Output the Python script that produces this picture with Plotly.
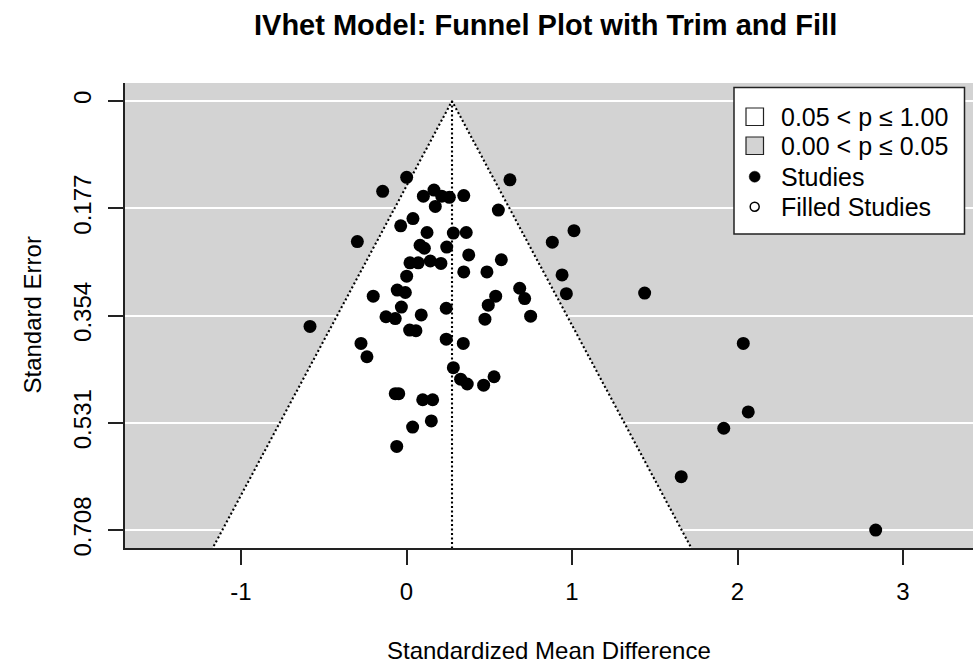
import plotly.graph_objects as go

# ---------------- data ----------------
estimate = 0.275  # trim-and-fill pooled estimate (apex of funnel)

smd = [0.001, -0.144, 0.166, 0.102, 0.213, 0.259, 0.346, 0.625, 0.174, 0.555,
       0.039, -0.035, 0.124, 0.283, 0.361, 1.012, -0.297, 0.881, 0.082, 0.108,
       0.243, 0.376, 0.021, 0.071, 0.144, 0.208, 0.573, 0.346, 0.486, 0.940,
       0.001, 0.684, -0.056, -0.007, -0.201, 0.966, 0.539, 0.714, 0.494, -0.031,
       0.240, 1.439, -0.583, -0.124, -0.068, 0.089, 0.474, 0.750, 0.019, 0.057,
       0.240, 0.343, -0.275, -0.239, 0.283, 0.327, 0.367, 0.466, 0.529, -0.068,
       -0.047, 0.098, 0.158, 0.150, 0.037, -0.059, 2.035, 2.065, 1.917, 1.660,
       2.835]
se = [0.126, 0.149, 0.147, 0.157, 0.157, 0.159, 0.156, 0.130, 0.174, 0.180,
      0.194, 0.206, 0.217, 0.218, 0.217, 0.214, 0.232, 0.233, 0.238, 0.243,
      0.241, 0.254, 0.267, 0.267, 0.264, 0.268, 0.262, 0.282, 0.282, 0.287,
      0.289, 0.309, 0.312, 0.316, 0.322, 0.318, 0.322, 0.326, 0.337, 0.340,
      0.342, 0.317, 0.372, 0.356, 0.359, 0.353, 0.360, 0.355, 0.378, 0.379,
      0.393, 0.400, 0.400, 0.422, 0.440, 0.459, 0.467, 0.469, 0.455, 0.483,
      0.483, 0.493, 0.493, 0.528, 0.538, 0.570, 0.400, 0.513, 0.540, 0.620,
      0.708]

filled_smd = []   # no imputed studies
filled_se = []

y_tickvals = [0, 0.177, 0.354, 0.531, 0.708]
y_ticktext = ["0", "0.177", "0.354", "0.531", "0.708"]
x_tickvals = [-1, 0, 1, 2, 3]
x_ticktext = ["-1", "0", "1", "2", "3"]

legend_labels = ["0.05 < p \u2264 1.00", "0.00 < p \u2264 0.05", "Studies", "Filled Studies"]

title_text = "IVhet Model: Funnel Plot with Trim and Fill"
x_title = "Standardized Mean Difference"
y_title = "Standard Error"

# ---------------- layout geometry ----------------
W, H = 973, 666
L, R, T, B = 125, 0, 83, 118
pw, ph = W - L - R, H - T - B

def px(x):
    return (x - L) / pw

def py(y):
    return (H - B - y) / ph

FONT = "Liberation Sans, Arial, Helvetica, sans-serif"
GREY = "#d3d3d3"
INK = "#222222"

se_bottom = 0.80
z = 1.96
fx = [estimate - z * se_bottom, estimate, estimate + z * se_bottom]
fy = [se_bottom, 0, se_bottom]

fig = go.Figure()

# white (non-significant) funnel region
fig.add_trace(go.Scatter(x=fx, y=fy, mode="lines", fill="toself",
                         fillcolor="white", line=dict(width=0),
                         hoverinfo="skip", showlegend=False))
# funnel edges (dotted)
fig.add_trace(go.Scatter(x=fx, y=fy, mode="lines",
                         line=dict(color="black", width=2.1, dash="2px,2.5px"),
                         hoverinfo="skip", showlegend=False))
# vertical line at estimate
fig.add_trace(go.Scatter(x=[estimate, estimate], y=[0, se_bottom], mode="lines",
                         line=dict(color="black", width=2.1, dash="2px,2.5px"),
                         hoverinfo="skip", showlegend=False))
# studies
fig.add_trace(go.Scatter(x=smd, y=se, mode="markers",
                         marker=dict(color="black", size=13, line=dict(width=0)),
                         name=legend_labels[2], showlegend=False))
# filled studies (none)
fig.add_trace(go.Scatter(x=filled_smd, y=filled_se, mode="markers",
                         marker=dict(color="white", size=11,
                                     line=dict(color="black", width=1.5)),
                         name=legend_labels[3], showlegend=False))

x_range = [(L - 406.5) / 165.5, (W - R - 406.5) / 165.5]
y_range = [(H - B - 101) / 606.0, (T - 101) / 606.0]

fig.update_layout(
    width=W, height=H,
    margin=dict(l=L, r=R, t=T, b=B, pad=0),
    paper_bgcolor="white",
    plot_bgcolor=GREY,
    font=dict(family=FONT, size=24, color="black"),
    showlegend=False,
    xaxis=dict(range=x_range, tickvals=x_tickvals, ticktext=x_ticktext,
               showgrid=False, zeroline=False, showline=True,
               linecolor=INK, linewidth=1.5, ticks="outside", ticklen=15,
               tickwidth=1.5, tickcolor=INK, ticklabelstandoff=6,
               tickfont=dict(size=24, family=FONT, color="black")),
    yaxis=dict(range=y_range, tickvals=y_tickvals, ticktext=y_ticktext,
               showgrid=True, gridcolor="white", gridwidth=1.5,
               zeroline=False, showline=True, linecolor=INK, linewidth=1.5,
               ticks="outside", ticklen=15, tickwidth=1.5, tickcolor=INK,
               tickangle=-90, ticklabelstandoff=8,
               tickfont=dict(size=24, family=FONT, color="black")),
)

annotations = [
    dict(text="<b>" + title_text + "</b>", x=px(545), y=py(25), xref="paper", yref="paper",
         xanchor="center", yanchor="middle", showarrow=False,
         font=dict(size=29, family=FONT, color="black")),
    dict(text=x_title, x=px(549), y=py(650), xref="paper", yref="paper",
         xanchor="center", yanchor="middle", showarrow=False,
         font=dict(size=24, family=FONT, color="black")),
    dict(text=y_title, x=px(32), y=py(315.5), xref="paper", yref="paper",
         xanchor="center", yanchor="middle", showarrow=False, textangle=-90,
         font=dict(size=24, family=FONT, color="black")),
]

# manual legend (R style)
shapes = [
    dict(type="rect", xref="paper", yref="paper",
         x0=px(734), x1=px(964.5), y0=py(234), y1=py(87.5),
         fillcolor="white", line=dict(color=INK, width=1.5), layer="above"),
    dict(type="rect", xref="paper", yref="paper",
         x0=px(746), x1=px(763.5), y0=py(125.5), y1=py(108),
         fillcolor="white", line=dict(color=INK, width=1.2), layer="above"),
    dict(type="rect", xref="paper", yref="paper",
         x0=px(746), x1=px(763.5), y0=py(154.5), y1=py(137),
         fillcolor=GREY, line=dict(color=INK, width=1.2), layer="above"),
    dict(type="circle", xref="paper", yref="paper",
         x0=px(754.7 - 5.5), x1=px(754.7 + 5.5), y0=py(176.7 + 5.5), y1=py(176.7 - 5.5),
         fillcolor="black", line=dict(color="black", width=0.5), layer="above"),
    dict(type="circle", xref="paper", yref="paper",
         x0=px(754.7 - 4.5), x1=px(754.7 + 4.5), y0=py(206.7 + 4.5), y1=py(206.7 - 4.5),
         fillcolor="white", line=dict(color="black", width=1.5), layer="above"),
]
legend_y = [116.5, 145.8, 176.7, 206.7]
for lab, yy in zip(legend_labels, legend_y):
    annotations.append(dict(text=lab, x=px(779), y=py(yy), xref="paper", yref="paper",
                            xanchor="left", yanchor="middle", showarrow=False,
                            font=dict(size=25, family=FONT, color="black")))

fig.update_layout(annotations=annotations, shapes=shapes)

fig.write_html("out.html",
               config={"displayModeBar": False},
               post_script="document.body.style.margin='0px';"
                           "document.body.style.padding='0px';"
                           "document.body.style.overflow='hidden';")
